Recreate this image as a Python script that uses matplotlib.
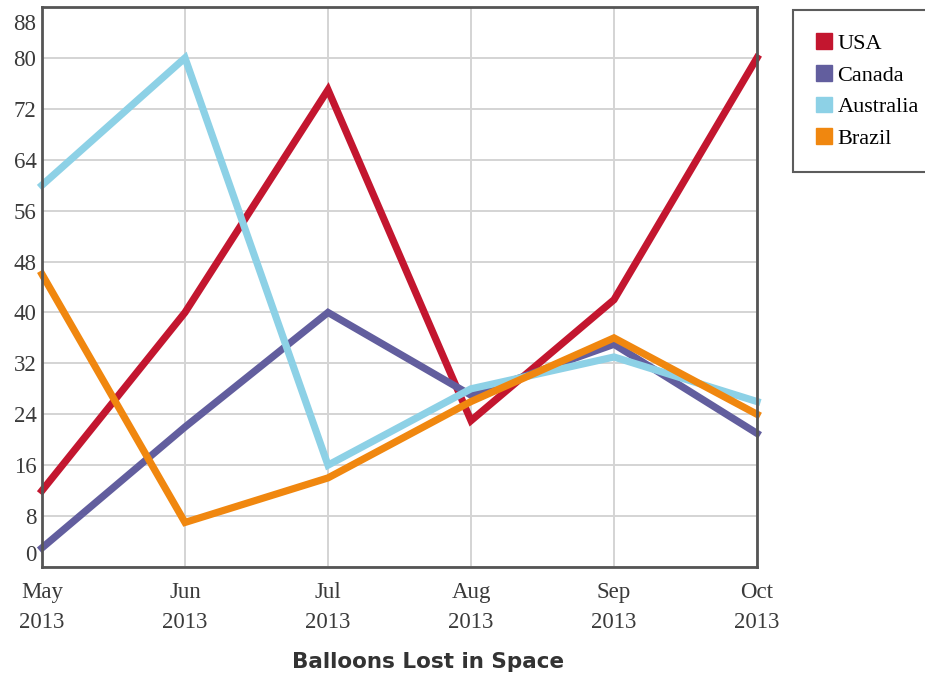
import matplotlib
matplotlib.use("Agg")
import matplotlib.pyplot as plt
import matplotlib.transforms as mtransforms
from matplotlib.patches import Patch

months = ["May\n2013", "Jun\n2013", "Jul\n2013", "Aug\n2013", "Sep\n2013", "Oct\n2013"]
usa = [12, 40, 75, 23, 42, 80]
canada = [3, 22, 40, 27, 35, 21]
australia = [60, 80, 16, 28, 33, 26]
brazil = [46, 7, 14, 26, 36, 24]
series_names = ["USA", "Canada", "Australia", "Brazil"]
series_colors = ["#c3162f", "#625e9e", "#8dd1e6", "#f0870f"]
y_ticks = list(range(0, 89, 8))

fig = plt.figure(figsize=(9.25, 6.76), dpi=100)
ax = fig.add_axes([42 / 925, 1 - 567 / 676, (757 - 42) / 925, (567 - 7) / 676])

x = list(range(len(months)))
for vals, name, col in zip([usa, canada, australia, brazil], series_names, series_colors):
    ax.plot(x, vals, color=col, lw=5.2, label=name, solid_joinstyle="miter", clip_on=False)

ax.set_xlim(0, len(months) - 1)
ax.set_ylim(0, 88)
ax.set_xticks(x)
ax.set_xticklabels(months, family="Liberation Serif", fontsize=16.5, color="#3a3a3a", linespacing=1.55)
ax.set_yticks(y_ticks)
ax.set_yticklabels([str(t) for t in y_ticks], family="Liberation Serif", fontsize=16.5, color="#3a3a3a")
ax.tick_params(axis="both", length=0)
ax.tick_params(axis="x", pad=11)
ax.tick_params(axis="y", pad=4)
ax.grid(True, color="#d4d4d4", lw=1.4)
ax.set_axisbelow(True)
for s in ax.spines.values():
    s.set_color("#555555")
    s.set_linewidth(2)

fig.canvas.draw()
ylabels = ax.get_yticklabels()
ylabels[0].set_transform(ylabels[0].get_transform() + mtransforms.ScaledTranslation(0, 14 / 100, fig.dpi_scale_trans))
ylabels[-1].set_transform(ylabels[-1].get_transform() + mtransforms.ScaledTranslation(0, -15 / 100, fig.dpi_scale_trans))

handles = [Patch(facecolor=c, edgecolor=c) for c in series_colors]
leg = fig.legend(handles, series_names, loc="upper left", bbox_to_anchor=(793 / 925, 1 - 10 / 676),
                 prop={"family": "Liberation Serif", "size": 16}, frameon=True, fancybox=False,
                 borderpad=1.05, labelspacing=0.5, handlelength=0.7, handleheight=0.7,
                 handletextpad=0.25, borderaxespad=0)
leg.get_frame().set_edgecolor("#333333")
leg.get_frame().set_linewidth(1.5)

fig.text(428 / 925, 1 - 662 / 676, "Balloons Lost in Space", ha="center", va="center",
         fontsize=15.5, fontweight="bold", color="#333333")

fig.savefig("out.png", dpi=100)
